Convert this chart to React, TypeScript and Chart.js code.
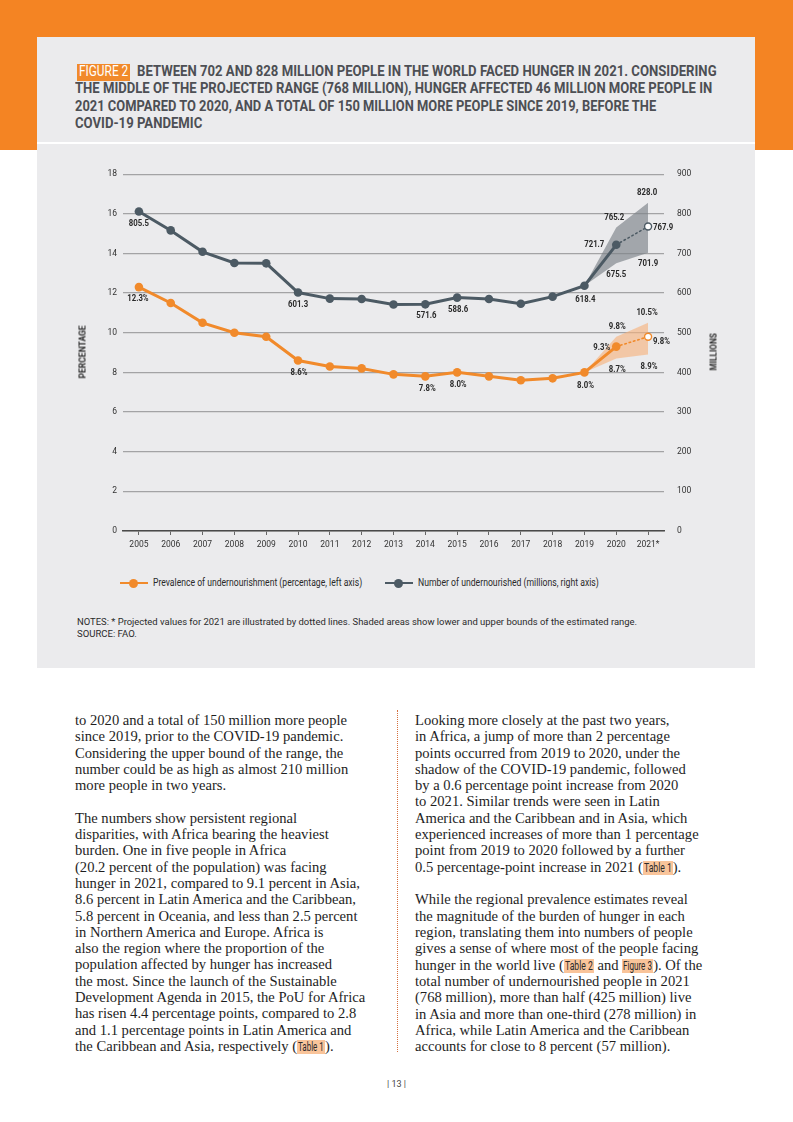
import React, { useEffect, useLayoutEffect, useRef } from "react";
import { Chart, registerables } from "chart.js";

Chart.register(...registerables);

// ---------------- DATA ----------------
const years = ["2005", "2006", "2007", "2008", "2009", "2010", "2011", "2012", "2013", "2014", "2015", "2016", "2017", "2018", "2019", "2020", "2021*"];

const prevalence = [12.3, 11.5, 10.5, 10.0, 9.8, 8.6, 8.3, 8.2, 7.9, 7.8, 8.0, 7.8, 7.6, 7.7, 8.0, 9.3, null];
const prevalenceProjected = [null, null, null, null, null, null, null, null, null, null, null, null, null, null, null, 9.3, 9.8];
const prevalenceUpper = [null, null, null, null, null, null, null, null, null, null, null, null, null, null, 8.0, 9.8, 10.5];
const prevalenceLower = [null, null, null, null, null, null, null, null, null, null, null, null, null, null, 8.0, 8.7, 8.9];

const undernourished = [805.5, 758, 704, 676, 675, 601.3, 586, 585, 571, 571.6, 588.6, 585, 573, 591, 618.4, 721.7, null];
const undernourishedProjected = [null, null, null, null, null, null, null, null, null, null, null, null, null, null, null, 721.7, 767.9];
const undernourishedUpper = [null, null, null, null, null, null, null, null, null, null, null, null, null, null, 618.4, 765.2, 828.0];
const undernourishedLower = [null, null, null, null, null, null, null, null, null, null, null, null, null, null, 618.4, 675.5, 701.9];

const leftTicks = [0, 2, 4, 6, 8, 10, 12, 14, 16, 18];
const rightTicks = [0, 100, 200, 300, 400, 500, 600, 700, 800, 900];

// value labels: axis, category index, value, text
const labelAxis = ["y1", "y", "y1", "y", "y1", "y1", "y", "y", "y1", "y", "y1", "y1", "y1", "y1", "y1", "y1", "y", "y", "y", "y", "y", "y"];
const labelIndex = [0, 0, 5, 5, 9, 10, 9, 10, 14, 14, 15, 15, 15, 16, 16, 16, 15, 15, 15, 16, 16, 16];
const labelValue = [805.5, 12.3, 601.3, 8.6, 571.6, 588.6, 7.8, 8.0, 618.4, 8.0, 721.7, 765.2, 675.5, 828.0, 767.9, 701.9, 9.3, 9.8, 8.7, 10.5, 9.8, 8.9];
const labelText = ["805.5", "12.3%", "601.3", "8.6%", "571.6", "588.6", "7.8%", "8.0%", "618.4", "8.0%", "721.7", "765.2", "675.5", "828.0", "767.9", "701.9", "9.3%", "9.8%", "8.7%", "10.5%", "9.8%", "8.9%"];

// layout of the labels (offsets in px from the data point)
const labelDx = [0, -1, 0, 1, 1, 1, 2, 1, 1, 1, -22, -2, 0, -1, 5, 0, -6, 1, 1, -1, 5, 1];
const labelDy = [12, 12, 12, 12, 11, 12, 12, 12, 14, 13, 0, -10, 11, -10, 1, 11, 1, -10, 11, -10, 5, 12];
const labelAlign = ["center", "center", "center", "center", "center", "center", "center", "center", "center", "center", "center", "center", "center", "center", "left", "center", "right", "center", "center", "center", "left", "center"];

// ---------------- STYLE ----------------
const ORANGE = "#f18a2b";
const SLATE = "#4c5a64";
const COND = 'Roboto, "Liberation Sans", sans-serif';
const SANS = 'Roboto, "Noto Sans", "Liberation Sans", sans-serif';
const SERIF = '"Liberation Serif", "DejaVu Serif", serif';

const labelsPlugin = {
  id: "valueLabels",
  afterDatasetsDraw(chart: any) {
    const ctx = chart.ctx;
    for (let k = 0; k < labelText.length; k++) {
      const x = chart.scales.x.getPixelForValue(labelIndex[k]);
      const y = chart.scales[labelAxis[k]].getPixelForValue(labelValue[k]);
      ctx.save();
      ctx.font = `bold 9.5px ${COND}`;
      ctx.fillStyle = "#2a2a2a";
      ctx.textBaseline = "middle";
      ctx.textAlign = labelAlign[k];
      ctx.translate(x + labelDx[k], y + labelDy[k]);
      ctx.scale(0.82, 1);
      ctx.fillText(labelText[k], 0, 0);
      ctx.restore();
    }
  },
};

// text squeezed horizontally to a target width (condensed look)
function Fit({ text, width, style }: { text: React.ReactNode; width: number; style?: React.CSSProperties }) {
  const inner = useRef<HTMLSpanElement | null>(null);
  useLayoutEffect(() => {
    const el = inner.current;
    if (!el) return;
    const w = el.offsetWidth;
    if (w > 0) el.style.transform = `scaleX(${width / w})`;
  });
  return (
    <span style={{ display: "inline-block", width, whiteSpace: "nowrap", ...style }}>
      <span ref={inner} style={{ display: "inline-block", transformOrigin: "left center", whiteSpace: "nowrap" }}>
        {text}
      </span>
    </span>
  );
}

function ChartBox() {
  const ref = useRef<HTMLCanvasElement | null>(null);
  useEffect(() => {
    if (!ref.current) return;
    const tickFont = { family: COND, size: 8.5 };
    const chart = new Chart(ref.current, {
      type: "line",
      data: {
        labels: years,
        datasets: [
          { label: "prevUpper", data: prevalenceUpper, yAxisID: "y", borderWidth: 0, pointRadius: 0, fill: false, order: 10 },
          {
            label: "prevLower",
            data: prevalenceLower,
            yAxisID: "y",
            borderWidth: 0,
            pointRadius: 0,
            fill: "-1",
            backgroundColor: "rgba(247, 178, 122, 0.62)",
            order: 10,
          },
          { label: "numUpper", data: undernourishedUpper, yAxisID: "y1", borderWidth: 0, pointRadius: 0, fill: false, order: 10 },
          {
            label: "numLower",
            data: undernourishedLower,
            yAxisID: "y1",
            borderWidth: 0,
            pointRadius: 0,
            fill: "-1",
            backgroundColor: "rgba(125, 130, 137, 0.66)",
            order: 10,
          },
          {
            label: "prevProj",
            data: prevalenceProjected,
            yAxisID: "y",
            borderColor: ORANGE,
            borderWidth: 1.6,
            borderDash: [1.5, 3],
            borderCapStyle: "round",
            pointRadius: [0, 0, 0, 0, 0, 0, 0, 0, 0, 0, 0, 0, 0, 0, 0, 0, 3.5],
            pointBackgroundColor: "#ffffff",
            pointBorderColor: ORANGE,
            pointBorderWidth: 1.4,
            fill: false,
            order: 5,
          },
          {
            label: "numProj",
            data: undernourishedProjected,
            yAxisID: "y1",
            borderColor: SLATE,
            borderWidth: 1.6,
            borderDash: [1.5, 3],
            borderCapStyle: "round",
            pointRadius: [0, 0, 0, 0, 0, 0, 0, 0, 0, 0, 0, 0, 0, 0, 0, 0, 3.5],
            pointBackgroundColor: "#ffffff",
            pointBorderColor: SLATE,
            pointBorderWidth: 1.4,
            fill: false,
            order: 5,
          },
          {
            label: "Prevalence of undernourishment (percentage, left axis)",
            data: prevalence,
            yAxisID: "y",
            borderColor: ORANGE,
            backgroundColor: ORANGE,
            borderWidth: 3,
            pointRadius: 4.3,
            pointBackgroundColor: ORANGE,
            pointBorderWidth: 0,
            tension: 0,
            fill: false,
            order: 1,
          },
          {
            label: "Number of undernourished (millions, right axis)",
            data: undernourished,
            yAxisID: "y1",
            borderColor: SLATE,
            backgroundColor: SLATE,
            borderWidth: 3,
            pointRadius: 4.3,
            pointBackgroundColor: SLATE,
            pointBorderWidth: 0,
            tension: 0,
            fill: false,
            order: 0,
          },
        ],
      },
      options: {
        animation: false,
        responsive: true,
        maintainAspectRatio: false,
        layout: { padding: { top: 8, bottom: 0, left: 0, right: 0 } },
        plugins: {
          legend: { display: false },
          tooltip: { enabled: false },
          title: { display: false },
        },
        scales: {
          x: {
            type: "category",
            offset: true,
            grid: {
              display: true,
              drawOnChartArea: false,
              drawTicks: true,
              tickLength: 4,
              color: "#666",
              offset: false,
            },
            border: { display: true, color: "#4a4a4a", width: 1.6 },
            ticks: { font: tickFont, color: "#333", padding: 5, maxRotation: 0, autoSkip: false },
            afterFit: (s: any) => {
              s.height = 29;
            },
          },
          y: {
            position: "left",
            min: 0,
            max: 18,
            afterBuildTicks: (s: any) => {
              s.ticks = leftTicks.map((v) => ({ value: v }));
            },
            grid: { color: "#a3a3a5", lineWidth: 1.2, drawTicks: false },
            border: { display: false },
            ticks: { font: tickFont, color: "#333", padding: 6 },
            afterFit: (s: any) => {
              s.width = 63;
            },
          },
          y1: {
            position: "right",
            min: 0,
            max: 900,
            afterBuildTicks: (s: any) => {
              s.ticks = rightTicks.map((v) => ({ value: v }));
            },
            grid: { display: false, drawTicks: false },
            border: { display: false },
            ticks: { font: tickFont, color: "#333", padding: 13 },
            afterFit: (s: any) => {
              s.width = 76;
            },
          },
        },
      },
      plugins: [labelsPlugin],
    } as any);
    return () => chart.destroy();
  }, []);
  return (
    <div style={{ position: "absolute", left: 60, top: 156, width: 680, height: 404 }}>
      <canvas ref={ref} />
    </div>
  );
}

function Hl({ text, width }: { text: string; width: number }) {
  return (
    <span style={{ display: "inline-block", background: "#f9c49a", width, lineHeight: "13.5px" }}>
      <Fit text={text} width={width - 2} style={{ fontFamily: COND, fontSize: 12, marginLeft: 1, color: "#2a2a2a" }} />
    </span>
  );
}

const titleStyle: React.CSSProperties = {
  position: "absolute",
  fontFamily: COND,
  fontWeight: "bold",
  fontSize: 15.5,
  lineHeight: "17.7px",
  color: "#4d4f54",
};

const axisTitle: React.CSSProperties = {
  position: "absolute",
  top: 352,
  transform: "translate(-50%, -50%) rotate(-90deg)",
  fontFamily: COND,
  fontWeight: "bold",
  fontSize: 9.5,
  lineHeight: "11px",
  color: "#2a2a2a",
};

export default function App() {
  useEffect(() => {
    document.body.style.margin = "0";
  }, []);
  const bodyText: React.CSSProperties = {
    position: "absolute",
    top: 712,
    fontFamily: SERIF,
    fontSize: 14.6,
    lineHeight: "16.3px",
    color: "#1e1e1e",
    whiteSpace: "nowrap",
  };
  return (
    <div style={{ position: "absolute", left: 0, top: 0, width: 793, height: 1122, background: "#fff", overflow: "hidden" }}>
      {/* orange band */}
      <div style={{ position: "absolute", left: 0, top: 0, width: 793, height: 150, background: "#f48423" }} />
      {/* gray panel */}
      <div style={{ position: "absolute", left: 37, top: 37, width: 718, height: 631, background: "#ebebed" }} />
      <div style={{ position: "absolute", left: 37, top: 142, width: 718, height: 2, background: "#ffffff" }} />

      {/* title */}
      <div style={{ position: "absolute", left: 77, top: 63.5, width: 53, height: 17, background: ORANGE }} />
      <div style={{ ...titleStyle, left: 79, top: 63, color: "#fff", fontWeight: "normal" }}>
        <Fit text="FIGURE 2" width={49} />
      </div>
      <div style={{ ...titleStyle, left: 137, top: 62.6 }}>
        <Fit text="BETWEEN 702 AND 828 MILLION PEOPLE IN THE WORLD FACED HUNGER IN 2021. CONSIDERING" width={580} />
      </div>
      <div style={{ ...titleStyle, left: 75, top: 80.2 }}>
        <Fit text="THE MIDDLE OF THE PROJECTED RANGE (768 MILLION), HUNGER AFFECTED 46 MILLION MORE PEOPLE IN" width={637} />
      </div>
      <div style={{ ...titleStyle, left: 75, top: 97.9 }}>
        <Fit text="2021 COMPARED TO 2020, AND A TOTAL OF 150 MILLION MORE PEOPLE SINCE 2019, BEFORE THE" width={581} />
      </div>
      <div style={{ ...titleStyle, left: 75, top: 115.4 }}>
        <Fit text="COVID-19 PANDEMIC" width={127} />
      </div>

      <ChartBox />

      {/* axis titles */}
      <div style={{ ...axisTitle, left: 82, width: 53 }}>
        <Fit text="PERCENTAGE" width={53} />
      </div>
      <div style={{ ...axisTitle, left: 713, width: 37 }}>
        <Fit text="MILLIONS" width={37} />
      </div>

      {/* legend */}
      <div style={{ position: "absolute", left: 120, top: 578, width: 28, height: 10 }}>
        <span style={{ position: "absolute", left: 0, top: 3.6, width: 28, height: 2.8, background: ORANGE }} />
        <span style={{ position: "absolute", left: 9, top: 0.5, width: 9, height: 9, borderRadius: "50%", background: ORANGE }} />
      </div>
      <div style={{ position: "absolute", left: 153, top: 577, fontFamily: COND, fontSize: 10, lineHeight: "12px", color: "#2a2a2a" }}>
        <Fit text="Prevalence of undernourishment (percentage, left axis)" width={209} />
      </div>
      <div style={{ position: "absolute", left: 385, top: 578, width: 28, height: 10 }}>
        <span style={{ position: "absolute", left: 0, top: 3.6, width: 28, height: 2.8, background: SLATE }} />
        <span style={{ position: "absolute", left: 9, top: 0.5, width: 9, height: 9, borderRadius: "50%", background: SLATE }} />
      </div>
      <div style={{ position: "absolute", left: 418, top: 577, fontFamily: COND, fontSize: 10, lineHeight: "12px", color: "#2a2a2a" }}>
        <Fit text="Number of undernourished (millions, right axis)" width={181} />
      </div>

      {/* notes */}
      <div style={{ position: "absolute", left: 77, top: 616, fontFamily: SANS, fontSize: 9.4, lineHeight: "12px", color: "#2a2a2a" }}>
        <Fit text="NOTES: * Projected values for 2021 are illustrated by dotted lines. Shaded areas show lower and upper bounds of the estimated range." width={560} />
      </div>
      <div style={{ position: "absolute", left: 77, top: 628, fontFamily: SANS, fontSize: 9.4, lineHeight: "12px", color: "#2a2a2a" }}>
        <Fit text="SOURCE: FAO." width={60} />
      </div>

      {/* body text left */}
      <div style={{ ...bodyText, left: 75 }}>
        to 2020 and a total of 150 million more people<br />
        since 2019, prior to the COVID-19 pandemic.<br />
        Considering the upper bound of the range, the<br />
        number could be as high as almost 210 million<br />
        more people in two years.<br />
        <br />
        The numbers show persistent regional<br />
        disparities, with Africa bearing the heaviest<br />
        burden. One in five people in Africa<br />
        (20.2 percent of the population) was facing<br />
        hunger in 2021, compared to 9.1 percent in Asia,<br />
        8.6 percent in Latin America and the Caribbean,<br />
        5.8 percent in Oceania, and less than 2.5 percent<br />
        in Northern America and Europe. Africa is<br />
        also the region where the proportion of the<br />
        population affected by hunger has increased<br />
        the most. Since the launch of the Sustainable<br />
        Development Agenda in 2015, the PoU for Africa<br />
        has risen 4.4 percentage points, compared to 2.8<br />
        and 1.1 percentage points in Latin America and<br />
        the Caribbean and Asia, respectively (<Hl text="Table 1" width={28} />).
      </div>

      {/* separator */}
      <div style={{ position: "absolute", left: 397, top: 710, height: 342, borderLeft: "1.5px dotted #d4703f" }} />

      {/* body text right */}
      <div style={{ ...bodyText, left: 415 }}>
        Looking more closely at the past two years,<br />
        in Africa, a jump of more than 2 percentage<br />
        points occurred from 2019 to 2020, under the<br />
        shadow of the COVID-19 pandemic, followed<br />
        by a 0.6 percentage point increase from 2020<br />
        to 2021. Similar trends were seen in Latin<br />
        America and the Caribbean and in Asia, which<br />
        experienced increases of more than 1 percentage<br />
        point from 2019 to 2020 followed by a further<br />
        0.5 percentage-point increase in 2021 (<Hl text="Table 1" width={30} />).<br />
        <br />
        While the regional prevalence estimates reveal<br />
        the magnitude of the burden of hunger in each<br />
        region, translating them into numbers of people<br />
        gives a sense of where most of the people facing<br />
        hunger in the world live (<Hl text="Table 2" width={30} /> and <Hl text="Figure 3" width={31} />). Of the<br />
        total number of undernourished people in 2021<br />
        (768 million), more than half (425 million) live<br />
        in Asia and more than one-third (278 million) in<br />
        Africa, while Latin America and the Caribbean<br />
        accounts for close to 8 percent (57 million).
      </div>

      {/* page number */}
      <div style={{ position: "absolute", left: 0, width: 793, top: 1079, textAlign: "center", fontFamily: SANS, fontSize: 9, color: "#444" }}>
        | 13 |
      </div>
    </div>
  );
}
